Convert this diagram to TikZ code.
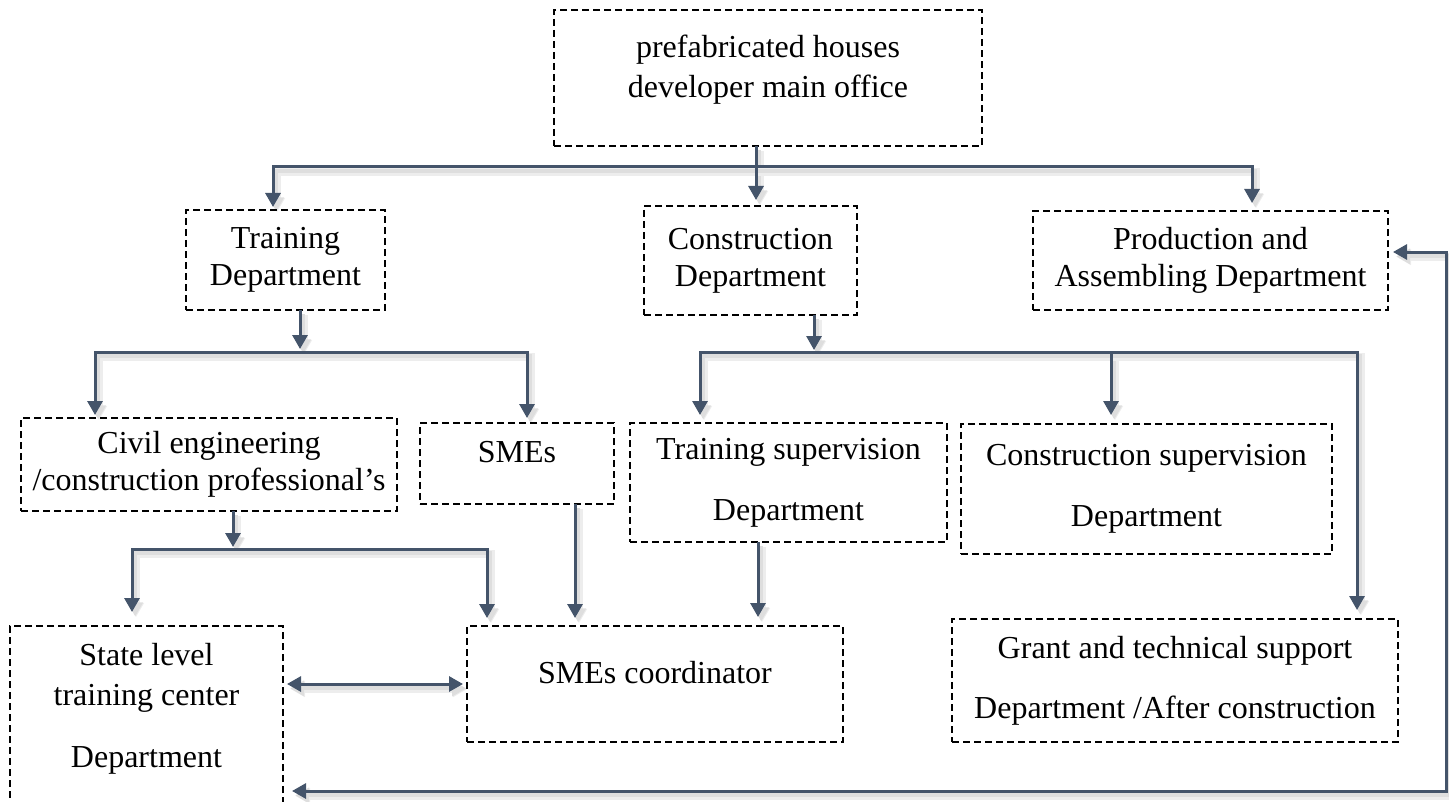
\documentclass[tikz,border=0pt]{standalone}
\usepackage{fontspec}
\setmainfont{Liberation Serif}
\usetikzlibrary{arrows.meta}
\pgfdeclarelayer{bg}
\pgfsetlayers{bg,main}
\definecolor{wirecol}{HTML}{44546A}

% a connector: a soft shadow on the background layer, then the line itself
\newcommand\wire[2][]{%
  \begin{pgfonlayer}{bg}
    \draw[wshadow,#1] #2;
    \draw[wshadowcore,#1] #2;
  \end{pgfonlayer}
  \draw[wireline,#1] #2;}

\tikzset{
  box/.style={draw=black, line width=1.3pt, dash pattern=on 3.5pt off 2pt,
    inner sep=0pt, outer sep=0pt, align=center,
    font=\fontsize{16pt}{18.5pt}\selectfont},
  tip/.style={-{Triangle[width=7.5pt,length=7pt]}},
  both/.style={{Triangle[width=7.5pt,length=7pt]}-{Triangle[width=7.5pt,length=7pt]}},
  wireline/.style={draw=wirecol, line width=1.5pt},
  wshadow/.style={draw=black!7, line width=4pt,
    transform canvas={shift={(2pt,-2.6pt)}}},
  wshadowcore/.style={draw=black!13, line width=2pt,
    transform canvas={shift={(1.6pt,-2.2pt)}}},
}

\begin{document}
\begin{tikzpicture}[x=0.5pt,y=-0.5pt]
\useasboundingbox (0,0) rectangle (1449,802);
\clip (0,0) rectangle (1449,802);

% boxes
\node[box, minimum width=214pt, minimum height=68pt] (main) at (768,78)
  {prefabricated houses\\[1.5pt]developer main office\rule[-12pt]{0pt}{12pt}};
\node[box, minimum width=99.5pt, minimum height=50pt] (train) at (285.5,260)
  {Training\\Department};
\node[box, minimum width=106.5pt, minimum height=54.5pt] (cons) at (750.5,260.5)
  {Construction\\Department};
\node[box, minimum width=177.5pt, minimum height=49.5pt] (prod) at (1210.5,260.5)
  {Production and\\Assembling Department};
\node[box, minimum width=188pt, minimum height=46.5pt] (civil) at (209,464.5)
  {Civil engineering\\/construction professional’s};
\node[box, minimum width=97pt, minimum height=40.5pt] (smes) at (517,463.5)
  {SMEs\rule[-11.5pt]{0pt}{11.5pt}};
\node[box, minimum width=158.5pt, minimum height=59.5pt] (tsup) at (788.5,482.5)
  {Training supervision\\[12pt]Department};
\node[box, minimum width=185.5pt, minimum height=65pt] (csup) at (1146.5,489)
  {Construction supervision\\[12pt]Department};
\node[box, minimum width=188pt, minimum height=58pt] (coord) at (655,684)
  {SMEs coordinator\rule[-12pt]{0pt}{12pt}};
\node[box, minimum width=223pt, minimum height=61.5pt] (grant) at (1175,680.5)
  {Grant and technical support\\[11.5pt]Department /After construction};
\node[box, minimum width=136.5pt, minimum height=112pt] (state) at (146.5,738)
  {State level\\[1.5pt]training center\\[12.5pt]Department\rule[-33pt]{0pt}{33pt}};

% junction points on the distribution bars
\coordinate (j1) at (756,167);
\coordinate (b1l) at (273,167);
\coordinate (b1r) at (1252,167);
\coordinate (j2) at (300,352);
\coordinate (b2l) at (95,352);
\coordinate (b2r) at (527,352);
\coordinate (j3) at (233,549);
\coordinate (b3l) at (132,549);
\coordinate (b3r) at (487,549);
\coordinate (j4) at (814,352);
\coordinate (b4l) at (700,352);
\coordinate (b4m) at (1111,352);
\coordinate (b4r) at (1357,352);
\coordinate (f1) at (1446,252);
\coordinate (f2) at (1446,791);
\coordinate (s1) at (575,0);
\coordinate (s2) at (758,0);

% main office to its three departments
\wire[tip, shorten >=3pt]{(main.south -| j1) -- (cons.north -| j1)}
\wire[tip, shorten >=1.5pt]{(j1) -- (b1l) -- (b1l |- train.north)}
\wire[tip, shorten >=4pt]{(j1) -- (b1r) -- (b1r |- prod.north)}

% training department branch
\wire[tip, shorten >=1.5pt]{(train.south -| j2) -- (j2)}
\wire[tip, shorten >=1.5pt]{(j2) -- (b2l) -- (b2l |- civil.north)}
\wire[tip, shorten >=2.5pt]{(j2) -- (b2r) -- (b2r |- smes.north)}

% civil engineering branch
\wire[tip, shorten >=1pt]{(civil.south -| j3) -- (j3)}
\wire[tip, shorten >=7pt]{(j3) -- (b3l) -- (b3l |- state.north)}
\wire[tip, shorten >=4pt]{(j3) -- (b3r) -- (b3r |- coord.north)}

% into the coordinator
\wire[tip, shorten >=4pt]{(smes.south -| s1) -- (coord.north -| s1)}
\wire[tip, shorten >=4.5pt]{(tsup.south -| s2) -- (coord.north -| s2)}

% construction department branch
\wire[tip, shorten >=1pt]{(cons.south -| j4) -- (j4)}
\wire[tip, shorten >=4pt]{(j4) -- (b4l) -- (b4l |- tsup.north)}
\wire[tip, shorten >=4.5pt]{(j4) -- (b4m) -- (b4m |- csup.north)}
\wire[tip, shorten >=4.5pt]{(j4) -- (b4r) -- (b4r |- grant.north)}

% two-way links
\wire[both, shorten <=2pt, shorten >=2pt]{(state.east |- coord.west) -- (coord.west)}
\wire[both, shorten <=4.5pt, shorten >=2.5pt]{(state.east |- f2) -- (f2) -- (f1) -- (prod.east |- f1)}

\end{tikzpicture}
\end{document}
